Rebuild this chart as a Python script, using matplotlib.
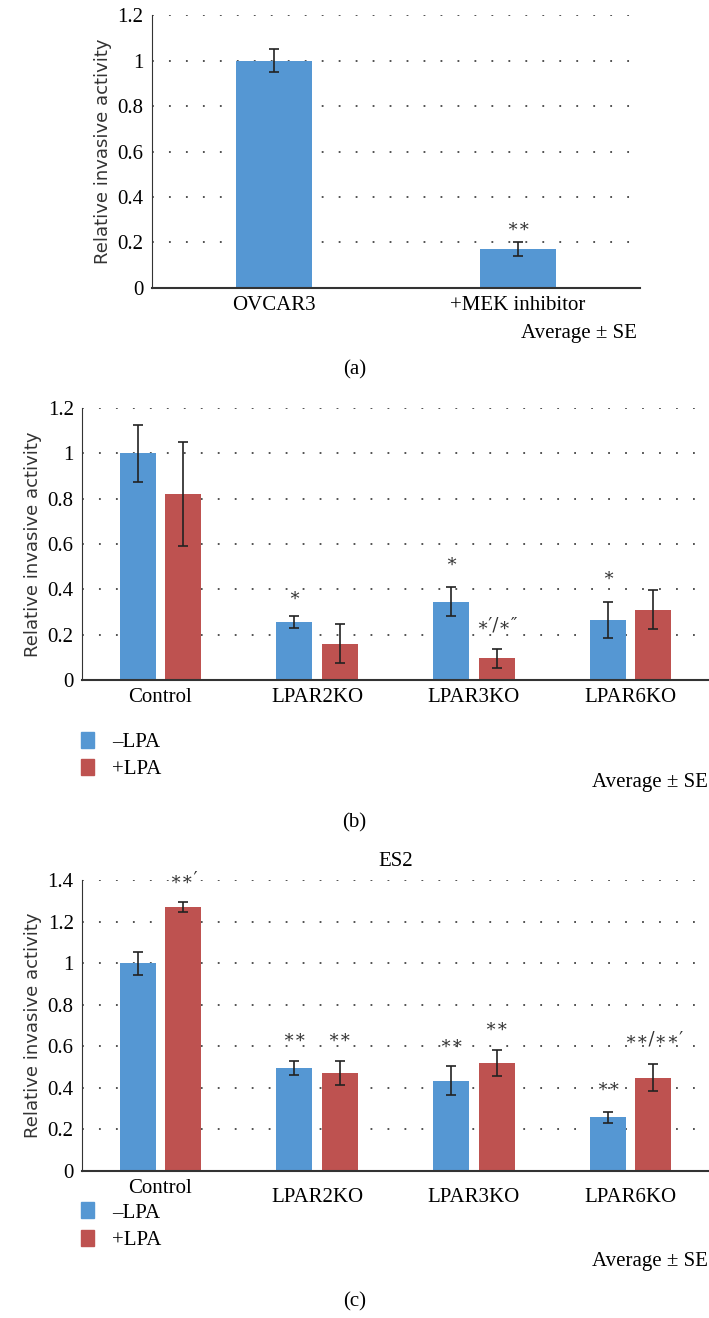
import matplotlib
matplotlib.use("Agg")
import matplotlib.pyplot as plt
import matplotlib.transforms as mtransforms
from matplotlib.patches import Patch
import numpy as np

plt.rcParams['font.family'] = ['Liberation Serif', 'DejaVu Serif']

blue = '#5597d3'
red = '#be5250'

# (a) data
a_labels = ['OVCAR3', '+MEK inhibitor']
a_vals = [1.0, 0.17]
a_err = [0.05, 0.03]
a_marks = ['', '∗∗']

# (b) data
groups = ['Control', 'LPAR2KO', 'LPAR3KO', 'LPAR6KO']
b_minus = [1.0, 0.255, 0.345, 0.265]
b_minus_err = [0.125, 0.025, 0.065, 0.078]
b_plus = [0.82, 0.16, 0.095, 0.31]
b_plus_err = [0.23, 0.087, 0.042, 0.087]
b_minus_marks = ['', '∗', '∗', '∗']
b_minus_mark_y = [None, 0.33, 0.48, 0.42]
b_plus_marks = ['', '', '∗′/∗″', '']
b_plus_mark_y = [None, None, 0.2, None]

# (c) data
c_minus = [1.0, 0.495, 0.435, 0.258]
c_minus_err = [0.055, 0.035, 0.068, 0.025]
c_plus = [1.27, 0.47, 0.52, 0.45]
c_plus_err = [0.025, 0.057, 0.062, 0.066]
c_minus_marks = ['', '∗∗', '∗∗', '∗∗']
c_minus_mark_y = [None, 0.6, 0.57, 0.36]
c_plus_marks = ['∗∗′', '∗∗', '∗∗', '∗∗/∗∗′']
c_plus_mark_y = [1.36, 0.6, 0.65, 0.59]

fig = plt.figure(figsize=(7.09, 13.18), dpi=100)

def style(ax, ymax, step):
    ax.set_ylim(0, ymax)
    ax.set_yticks(np.arange(0, ymax + 1e-9, step))
    ax.set_yticklabels(['0'] + ['%g' % t for t in np.arange(step, ymax + 1e-9, step)])
    ax.grid(axis='y', linestyle=(0, (1, 8.4)), color='#444444', linewidth=1.3)
    ax.set_axisbelow(True)
    for s in ['top', 'right']:
        ax.spines[s].set_visible(False)
    ax.spines['left'].set_color('#333333')
    ax.spines['bottom'].set_color('#333333')
    ax.spines['bottom'].set_linewidth(1.5)
    ax.tick_params(length=0, labelsize=15, pad=6)
    ax.set_ylabel('Relative invasive activity', fontsize=13, family='DejaVu Sans', color='#333333')

ek = dict(ecolor='#222222', elinewidth=1.2, capsize=3.5, capthick=1.2)
mk = dict(ha='center', va='bottom', fontsize=13, family='DejaVu Serif', color='#333333')

# panel (a)
ax1 = fig.add_axes([0.214, 0.7815, 0.689, 0.2071])
x = np.arange(len(a_labels))
ax1.bar(x, a_vals, 0.31, color=blue, yerr=a_err, error_kw=ek)
ax1.set_xlim(-0.5, 1.5)
style(ax1, 1.2, 0.2)
ax1.set_xticks(x)
ax1.set_xticklabels(a_labels)
for i, m in enumerate(a_marks):
    if m:
        ax1.text(x[i], a_vals[i] + a_err[i] + 0.03, m, **mk)
fig.text(0.898, 0.747, 'Average ± SE', ha='right', va='center', fontsize=15)
fig.text(0.5, 0.719, '(a)', ha='center', va='center', fontsize=15)

def grouped(ax, minus, merr, plus, perr, mm, mmy, pm, pmy):
    x = np.arange(len(groups))
    ax.bar(x - 0.145, minus, 0.23, color=blue, yerr=merr, error_kw=ek)
    ax.bar(x + 0.145, plus, 0.23, color=red, yerr=perr, error_kw=ek)
    ax.set_xlim(-0.5, 3.5)
    ax.set_xticks(x)
    ax.set_xticklabels(groups)
    for i in range(len(groups)):
        if mm[i]:
            ax.text(x[i] - 0.145, mmy[i], mm[i], **mk)
        if pm[i]:
            ax.text(x[i] + 0.145, pmy[i], pm[i], **mk)

legend_kw = dict(loc='upper left', frameon=False, fontsize=15, handlelength=0.6,
                 handleheight=0.8, labelspacing=0.35, handletextpad=0.9)

# panel (b)
ax2 = fig.add_axes([0.1157, 0.4841, 0.8843, 0.2064])
style(ax2, 1.2, 0.2)
grouped(ax2, b_minus, b_minus_err, b_plus, b_plus_err,
        b_minus_marks, b_minus_mark_y, b_plus_marks, b_plus_mark_y)
handles = [Patch(color=blue, label='–LPA'), Patch(color=red, label='+LPA')]
fig.legend(handles=handles, bbox_to_anchor=(0.088, 0.459), **legend_kw)
fig.text(0.998, 0.406, 'Average ± SE', ha='right', va='center', fontsize=15)
fig.text(0.5, 0.376, '(b)', ha='center', va='center', fontsize=15)

# panel (c)
ax3 = fig.add_axes([0.1157, 0.1115, 0.8843, 0.2208])
style(ax3, 1.4, 0.2)
grouped(ax3, c_minus, c_minus_err, c_plus, c_plus_err,
        c_minus_marks, c_minus_mark_y, c_plus_marks, c_plus_mark_y)
ax3.set_title('ES2', fontsize=15, pad=10)
# in the original the KO labels sit a little lower than Control
for lab in ax3.get_xticklabels()[1:]:
    lab.set_transform(lab.get_transform() + mtransforms.ScaledTranslation(0, -6 / 72, fig.dpi_scale_trans))
handles = [Patch(color=blue, label='–LPA'), Patch(color=red, label='+LPA')]
fig.legend(handles=handles, bbox_to_anchor=(0.088, 0.102), **legend_kw)
fig.text(0.998, 0.0425, 'Average ± SE', ha='right', va='center', fontsize=15)
fig.text(0.5, 0.012, '(c)', ha='center', va='center', fontsize=15)

fig.savefig('out.png', dpi=100)
